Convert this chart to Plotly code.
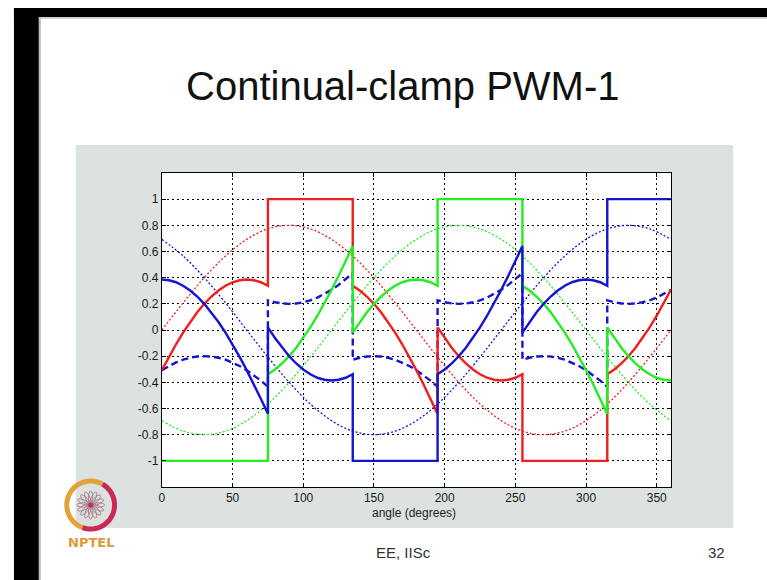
import math
import plotly.graph_objects as go

# ---------------- data ----------------
angle_ref = [0, 15, 30, 45, 60, 75, 90, 105, 120, 135, 150, 165, 180,
             195, 210, 225, 240, 255, 270, 285, 300, 315, 330, 345, 360]
ref_r = [0, 0.207, 0.4, 0.566, 0.693, 0.773, 0.8, 0.773, 0.693, 0.566, 0.4, 0.207, 0,
         -0.207, -0.4, -0.566, -0.693, -0.773, -0.8, -0.773, -0.693, -0.566, -0.4, -0.207, 0]
ref_g = [-0.693, -0.773, -0.8, -0.773, -0.693, -0.566, -0.4, -0.207, 0, 0.207, 0.4, 0.566, 0.693,
         0.773, 0.8, 0.773, 0.693, 0.566, 0.4, 0.207, 0, -0.207, -0.4, -0.566, -0.693]
ref_b = [0.693, 0.566, 0.4, 0.207, 0, -0.207, -0.4, -0.566, -0.693, -0.773, -0.8, -0.773, -0.693,
         -0.566, -0.4, -0.207, 0, 0.207, 0.4, 0.566, 0.693, 0.773, 0.8, 0.773, 0.693]

angle_mod = [0, 5, 10, 15, 20, 25, 30, 35, 40, 45, 50, 55, 60, 65, 70, 75,
             75, 80, 85, 90, 95, 100, 105, 110, 115, 120, 125, 130, 135,
             135, 140, 145, 150, 155, 160, 165, 170, 175, 180, 185, 190, 195,
             195, 200, 205, 210, 215, 220, 225, 230, 235, 240, 245, 250, 255,
             255, 260, 265, 270, 275, 280, 285, 290, 295, 300, 305, 310, 315,
             315, 320, 325, 330, 335, 340, 345, 350, 355, 360]
v_zero = [-0.307, -0.275, -0.248, -0.227, -0.212, -0.203, -0.200, -0.203, -0.212, -0.227, -0.248, -0.275, -0.307, -0.345, -0.387, -0.434,
          0.227, 0.212, 0.203, 0.200, 0.203, 0.212, 0.227, 0.248, 0.275, 0.307, 0.345, 0.387, 0.434,
          -0.227, -0.212, -0.203, -0.200, -0.203, -0.212, -0.227, -0.248, -0.275, -0.307, -0.345, -0.387, -0.434,
          0.227, 0.212, 0.203, 0.200, 0.203, 0.212, 0.227, 0.248, 0.275, 0.307, 0.345, 0.387, 0.434,
          -0.227, -0.212, -0.203, -0.200, -0.203, -0.212, -0.227, -0.248, -0.275, -0.307, -0.345, -0.387, -0.434,
          0.227, 0.212, 0.203, 0.200, 0.203, 0.212, 0.227, 0.248, 0.275, 0.307]
mod_r = [-0.307, -0.205, -0.109, -0.020, 0.061, 0.135, 0.200, 0.256, 0.302, 0.338, 0.365, 0.380, 0.386, 0.380, 0.365, 0.338,
         1, 1, 1, 1, 1, 1, 1, 1, 1, 1, 1, 1, 1,
         0.338, 0.302, 0.256, 0.200, 0.135, 0.061, -0.020, -0.109, -0.205, -0.307, -0.414, -0.526, -0.641,
         0.020, -0.061, -0.135, -0.200, -0.256, -0.302, -0.338, -0.365, -0.380, -0.386, -0.380, -0.365, -0.338,
         -1, -1, -1, -1, -1, -1, -1, -1, -1, -1, -1, -1, -1,
         -0.338, -0.302, -0.256, -0.200, -0.135, -0.061, 0.020, 0.109, 0.205, 0.307]
mod_g = [-1, -1, -1, -1, -1, -1, -1, -1, -1, -1, -1, -1, -1, -1, -1, -1,
         -0.338, -0.302, -0.256, -0.200, -0.135, -0.061, 0.020, 0.109, 0.205, 0.307, 0.414, 0.526, 0.641,
         -0.020, 0.061, 0.135, 0.200, 0.256, 0.302, 0.338, 0.365, 0.380, 0.386, 0.380, 0.365, 0.338,
         1, 1, 1, 1, 1, 1, 1, 1, 1, 1, 1, 1, 1,
         0.338, 0.302, 0.256, 0.200, 0.135, 0.061, -0.020, -0.109, -0.205, -0.307, -0.414, -0.526, -0.641,
         0.020, -0.061, -0.135, -0.200, -0.256, -0.302, -0.338, -0.365, -0.380, -0.386]
mod_b = [0.386, 0.380, 0.365, 0.338, 0.302, 0.256, 0.200, 0.135, 0.061, -0.020, -0.109, -0.205, -0.307, -0.414, -0.526, -0.641,
         0.020, -0.061, -0.135, -0.200, -0.256, -0.302, -0.338, -0.365, -0.380, -0.386, -0.380, -0.365, -0.338,
         -1, -1, -1, -1, -1, -1, -1, -1, -1, -1, -1, -1, -1,
         -0.338, -0.302, -0.256, -0.200, -0.135, -0.061, 0.020, 0.109, 0.205, 0.307, 0.414, 0.526, 0.641,
         -0.020, 0.061, 0.135, 0.200, 0.256, 0.302, 0.338, 0.365, 0.380, 0.386, 0.380, 0.365, 0.338,
         1, 1, 1, 1, 1, 1, 1, 1, 1, 1]

x_ticks = [0, 50, 100, 150, 200, 250, 300, 350]
y_ticks = [-1, -0.8, -0.6, -0.4, -0.2, 0, 0.2, 0.4, 0.6, 0.8, 1]
y_ticktext = ["-1", "-0.8", "-0.6", "-0.4", "-0.2", "0", "0.2", "0.4", "0.6", "0.8", "1"]

title_text = "Continual-clamp PWM-1"
xlabel_text = "angle (degrees)"
footer_left = "EE, IISc"
footer_right = "32"

# ---------------- layout helpers ----------------
W, H = 767, 580
def px(x, y):
    return x / W, 1 - y / H

RED, GREEN, BLUE = "#f01e1e", "#22ee22", "#1414d2"

fig = go.Figure()
# dotted references
for y, c in [(ref_r, RED), (ref_g, GREEN), (ref_b, BLUE)]:
    fig.add_trace(go.Scatter(x=angle_ref, y=y, mode="lines", line_shape="spline",
                             line=dict(color=c, width=1.3, dash="2px,2px"), showlegend=False))
# zero sequence (dashed)
fig.add_trace(go.Scatter(x=angle_mod, y=v_zero, mode="lines",
                         line=dict(color=BLUE, width=2.4, dash="7px,4px"), showlegend=False))
# modulating signals (solid)
for y, c in [(mod_r, RED), (mod_g, GREEN), (mod_b, BLUE)]:
    fig.add_trace(go.Scatter(x=angle_mod, y=y, mode="lines",
                             line=dict(color=c, width=2.4), showlegend=False))

# plot area in pixels
PL, PR, PT, PB = 159.5, 670.5, 173, 487
dx0, _ = px(PL, 0)
dx1, _ = px(PR, 0)
_, dy0 = px(0, PB)
_, dy1 = px(0, PT)

shapes = []
def rect(x0, y0, x1, y1, color, line=None):
    a0, b0 = px(x0, y1)
    a1, b1 = px(x1, y0)
    shapes.append(dict(type="rect", xref="paper", yref="paper", x0=a0, y0=b0, x1=a1, y1=b1,
                       fillcolor=color, line=line or dict(width=0), layer="below"))

# slide frame
rect(11, 8, 36, 580, "black")
rect(11, 8, 767, 17, "black")
rect(36, 17, 38, 580, "#bdbdbd")
rect(36, 17, 767, 19, "#cfcfcf")
# gray panel and white plot area
rect(73, 145, 733, 528, "#dbe2df")
rect(PL, PT, PR, PB, "white")

# NPTEL logo (decorative)
cx, cy, r = 88, 505, 24
def arc_path(a0, a1, rad, n=30):
    pts = []
    for i in range(n + 1):
        t = math.radians(a0 + (a1 - a0) * i / n)
        X, Y = px(cx + rad * math.cos(t), cy - rad * math.sin(t))
        pts.append(f"{X:.5f},{Y:.5f}")
    return "M" + " L".join(pts)
shapes.append(dict(type="path", xref="paper", yref="paper", path=arc_path(60, 250, r),
                   line=dict(color="#e3a23c", width=5), layer="above"))
shapes.append(dict(type="path", xref="paper", yref="paper", path=arc_path(250, 420, r),
                   line=dict(color="#c92a55", width=5), layer="above"))
for k in range(16):
    th = math.radians(k * 22.5)
    pts = []
    for i in range(25):
        t = 2 * math.pi * i / 24
        u = 7 * math.cos(t) + 7
        v = 2.2 * math.sin(t)
        X = cx + u * math.cos(th) - v * math.sin(th)
        Y = cy - (u * math.sin(th) + v * math.cos(th))
        a, b = px(X, Y)
        pts.append(f"{a:.5f},{b:.5f}")
    shapes.append(dict(type="path", xref="paper", yref="paper", path="M" + " L".join(pts) + " Z",
                       line=dict(color="#a77f8c", width=1), layer="above"))
a0, b0 = px(cx - 2.5, cy + 2.5)
a1, b1 = px(cx + 2.5, cy - 2.5)
shapes.append(dict(type="circle", xref="paper", yref="paper", x0=a0, y0=b0, x1=a1, y1=b1,
                   fillcolor="#d2245a", line=dict(width=0), layer="above"))

annotations = []
def text(x, y, s, size, color="black", family="Liberation Sans, Arial, sans-serif"):
    a, b = px(x, y)
    annotations.append(dict(x=a, y=b, xref="paper", yref="paper", text=s, showarrow=False,
                            xanchor="center", yanchor="middle",
                            font=dict(size=size, color=color, family=family)))
text(401, 86, title_text, 40, "#111111")
text(413, 513, xlabel_text, 12, "#222222")
text(402, 552, footer_left, 15, "#333333")
text(716, 552, footer_right, 15, "#333333")
text(88, 542, "<b>NPTEL</b>", 13, "#e09a38", "DejaVu Sans, sans-serif")

axis_common = dict(showline=True, linecolor="black", linewidth=1, mirror="ticks",
                   ticks="inside", ticklen=4, tickcolor="black",
                   showgrid=True, gridcolor="black", gridwidth=1, griddash="2px,3px",
                   zeroline=False,
                   tickfont=dict(size=12, color="#1a1a1a", family="Liberation Sans, Arial, sans-serif"))

fig.update_layout(
    width=W, height=H, margin=dict(l=0, r=0, t=0, b=0),
    paper_bgcolor="white", plot_bgcolor="rgba(0,0,0,0)",
    xaxis=dict(domain=[dx0, dx1], range=[0, 360], tickmode="array", tickvals=x_ticks, **axis_common),
    yaxis=dict(domain=[dy0, dy1], range=[-1.2, 1.2], tickmode="array", tickvals=y_ticks,
               ticktext=y_ticktext, **axis_common),
    shapes=shapes, annotations=annotations, showlegend=False,
)

fig.write_html("out.html")
